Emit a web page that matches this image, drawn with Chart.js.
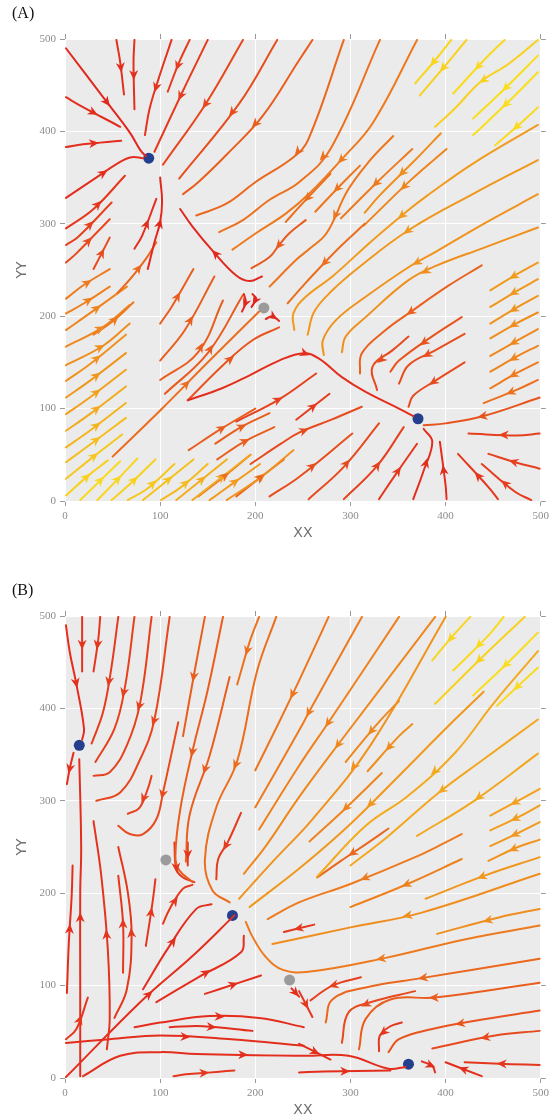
<!DOCTYPE html>
<html>
<head>
<meta charset="utf-8">
<script src="https://cdn.jsdelivr.net/npm/chart.js@4"></script>
<style>
body { margin: 0; background: #fff; width: 553px; height: 1120px; position: relative; overflow: hidden; }
canvas { position: absolute; left: 0; }
#panelA { top: 0; }
#panelB { top: 577px; }
</style>
</head>
<body>
<canvas id="panelA" width="553" height="543"></canvas>
<canvas id="panelB" width="553" height="543"></canvas>
<script>
// axis ticks shared by both panels
const tickValues = [0, 100, 200, 300, 400, 500];

// fixed points
const stableA = [[88, 371], [371, 89]];
const saddleA = [[209, 209]];
const stableB = [[15, 360], [176, 176], [361, 15]];
const saddleB = [[106, 236], [236, 106]];

// streamlines: [speed level 0 (red) .. 1 (yellow), points in flow order]
const streamsA = [
  [0.02, [[1,490],[40,437],[68,399],[79,380],[85,373]]],
  [0.05, [[1,437],[16,428],[58,405]]],
  [0.05, [[1,383],[19,386],[59,390]]],
  [0.05, [[1,328],[30,348],[58,367],[70,372],[82,371]]],
  [0.06, [[54,499],[58,475],[62,440]]],
  [0.06, [[73,499],[72,475],[73,424]]],
  [0.08, [[112,499],[99,459],[89,425],[84,396]]],
  [0.12, [[131,499],[120,475],[108,443]]],
  [0.12, [[150,499],[124,444],[94,378]]],
  [0.18, [[187,499],[148,430],[103,364]]],
  [0.22, [[223,499],[183,430],[120,349]]],
  [0.1, [[1,295],[30,316],[63,352]]],
  [0.15, [[1,277],[14,286],[49,323]]],
  [0.2, [[1,258],[12,268],[47,305]]],
  [0.2, [[30,251],[47,285]]],
  [0.05, [[73,273],[81,287],[96,327]]],
  [0.02, [[87,251],[94,280],[100,302],[102,324],[100,350]]],
  [0.02, [[207,243],[194,238],[180,244],[155,271],[134,297],[121,316]]],
  [0.3, [[260,499],[246,477],[208,417],[170,375],[140,345],[124,332]]],
  [0.35, [[293,499],[256,392],[240,372],[200,345],[170,322],[138,309]]],
  [0.4, [[331,499],[279,381],[246,345],[215,326],[187,304],[162,291]]],
  [0.45, [[370,499],[324,410],[291,370],[257,333],[232,311],[201,290],[176,272]]],
  [0.38, [[279,354],[267,341],[246,318],[232,302]]],
  [0.42, [[310,363],[286,338],[263,313]]],
  [0.28, [[253,304],[236,290],[225,277],[215,264],[196,252]]],
  [0.45, [[365,381],[328,345],[290,306]]],
  [0.42, [[345,395],[320,368],[297,336],[275,290],[257,273],[243,261],[215,232]]],
  [0.38, [[315,300],[290,276],[272,257],[252,235],[234,214]]],
  [0.5, [[401,381],[363,347],[314,298]]],
  [0.55, [[395,398],[368,369],[330,330],[315,312]]],
  [0.62, [[497,407],[430,366],[380,330],[361,315],[323,282],[281,243],[253,221],[240,203],[241,185]]],
  [0.6, [[497,369],[430,333],[361,293],[309,253],[281,228],[262,205],[255,180]]],
  [0.58, [[497,332],[440,300],[390,270],[361,253],[316,221],[285,196],[271,174],[272,158]]],
  [0.56, [[497,296],[440,274],[391,255],[361,239],[316,199],[295,178],[291,161]]],
  [0.92, [[406,499],[389,477],[368,452]]],
  [0.9, [[422,499],[406,479],[373,439]]],
  [0.95, [[462,499],[443,480],[408,441]]],
  [0.9, [[497,499],[466,473],[436,453],[410,425],[389,405]]],
  [0.97, [[497,482],[466,450],[429,414]]],
  [0.97, [[497,464],[466,432],[429,396]]],
  [0.95, [[497,426],[478,408],[452,385]]],
  [0.62, [[497,258],[476,246],[447,228]]],
  [0.6, [[497,240],[476,228],[447,210]]],
  [0.58, [[497,222],[476,210],[447,192]]],
  [0.55, [[497,204],[474,192],[447,176]]],
  [0.52, [[497,186],[476,174],[447,157]]],
  [0.5, [[497,168],[476,157],[447,140]]],
  [0.45, [[497,150],[474,138],[447,122]]],
  [0.4, [[497,131],[474,120],[440,106]]],
  [0.25, [[499,112],[440,92],[400,84],[377,82]]],
  [0.15, [[499,73],[475,71],[424,73]]],
  [0.15, [[499,35],[473,42],[445,51]]],
  [0.12, [[490,1],[473,10],[438,40]]],
  [0.1, [[455,2],[445,15],[413,51]]],
  [0.05, [[401,2],[400,17],[394,64]]],
  [0.05, [[366,2],[377,33],[386,64],[377,78]]],
  [0.1, [[330,2],[347,28],[370,62]]],
  [0.15, [[293,2],[328,38],[356,80]]],
  [0.2, [[256,2],[293,37],[330,84]]],
  [0.22, [[215,5],[246,26],[302,73]]],
  [0.2, [[195,40],[227,62],[246,74],[280,88],[312,102]]],
  [0.15, [[180,86],[225,110],[264,138]]],
  [0.12, [[243,88],[278,116]]],
  [0.05, [[129,109],[165,122],[194,136],[225,152],[251,160],[267,154],[291,134],[316,118],[351,100],[366,92]]],
  [0.38, [[50,48],[100,98],[152,152],[204,205]]],
  [0.25, [[129,109],[166,147],[197,174],[225,188]]],
  [0.32, [[438,255],[403,233],[361,203],[337,185],[312,160],[310,138]]],
  [0.25, [[417,199],[387,179],[351,152],[342,140]]],
  [0.2, [[361,178],[344,163],[323,145],[328,120]]],
  [0.22, [[420,181],[389,163],[361,147],[351,127]]],
  [0.2, [[420,150],[389,130],[366,114],[361,102]]],
  [0.02, [[188,224],[190,215],[186,205]]],
  [0.02, [[197,224],[201,219],[196,210]]],
  [0.02, [[211,197],[218,200],[225,195]]],
  [0.3, [[100,192],[112,210],[135,251]]],
  [0.3, [[100,152],[126,185],[157,243]]],
  [0.3, [[100,131],[140,161],[166,217]]],
  [0.28, [[105,116],[150,160],[187,223]]],
  [0.35, [[55,225],[70,242],[85,262],[96,280]]],
  [0.45, [[30,180],[51,195],[72,215]]],
  [0.45, [[1,219],[20,234],[47,251]]],
  [0.48, [[1,203],[20,214],[47,232]]],
  [0.5, [[1,185],[30,206],[65,232]]],
  [0.52, [[1,167],[38,187],[68,212]]],
  [0.55, [[1,147],[40,168],[68,192]]],
  [0.57, [[1,130],[26,148],[64,180]]],
  [0.6, [[1,112],[26,130],[64,160]]],
  [0.65, [[1,94],[26,112],[64,142]]],
  [0.7, [[1,76],[26,94],[64,124]]],
  [0.75, [[1,58],[26,76],[64,106]]],
  [0.8, [[1,42],[25,60],[64,90]]],
  [0.85, [[1,24],[25,44],[60,72]]],
  [0.9, [[1,6],[25,28],[45,44]]],
  [0.95, [[16,1],[40,25],[58,43]]],
  [0.92, [[34,1],[54,22],[76,46]]],
  [0.9, [[49,1],[70,20],[95,45]]],
  [0.85, [[66,1],[86,13],[115,40]]],
  [0.82, [[82,1],[105,20],[135,45]]],
  [0.78, [[101,1],[122,15],[150,40]]],
  [0.72, [[117,1],[140,20],[170,45]]],
  [0.68, [[134,1],[160,22],[195,50]]],
  [0.62, [[152,1],[175,18],[205,40]]],
  [0.58, [[170,1],[206,26],[240,55]]],
  [0.3, [[130,55],[164,78],[200,100]]],
  [0.3, [[158,62],[185,80],[215,95]]],
  [0.3, [[160,45],[188,64],[220,80]]],
  [0.4, [[140,5],[169,28],[195,50]]],
  [0.35, [[180,5],[206,26],[230,45]]]
];

const streamsB = [
  [0.05, [[1,490],[5,461],[12,426],[20,378],[18,366]]],
  [0.08, [[18,499],[18,475],[18,440]]],
  [0.1, [[37,499],[35,475],[30,440]]],
  [0.12, [[56,499],[48,439],[40,396],[28,362]]],
  [0.15, [[73,499],[63,423],[52,378],[32,342]]],
  [0.15, [[91,499],[79,406],[65,360],[47,331],[30,327]]],
  [0.18, [[110,499],[94,388],[79,345],[58,309],[33,300]]],
  [0.3, [[147,499],[136,439],[124,370]]],
  [0.3, [[166,499],[150,420],[134,354],[121,290],[116,240],[120,225],[134,212]]],
  [0.3, [[173,434],[152,349],[131,285],[127,234]]],
  [0.4, [[204,499],[195,475],[181,426]]],
  [0.38, [[222,499],[202,441],[181,343],[159,293],[147,236],[155,203],[173,190]]],
  [0.42, [[277,499],[246,430],[225,385],[200,333]]],
  [0.45, [[312,499],[258,399],[246,376],[200,293]]],
  [0.48, [[351,499],[279,388],[246,338],[204,269]]],
  [0.52, [[389,499],[290,365],[246,304],[211,251],[188,221]]],
  [0.15, [[91,327],[87,313],[78,292],[66,286]]],
  [0.2, [[119,385],[103,309],[96,280],[82,264],[68,264],[56,273]]],
  [0.05, [[9,352],[5,335],[2,318]]],
  [0.12, [[185,287],[171,255],[161,237],[159,215]]],
  [0.1, [[1,42],[12,53],[24,87]]],
  [0.05, [[2,92],[4,146],[7,197],[8,230]]],
  [0.05, [[16,2],[16,100],[16,201],[17,250],[15,345]]],
  [0.08, [[44,31],[47,64],[45,139],[38,220],[30,278]]],
  [0.1, [[61,114],[61,167],[56,219]]],
  [0.1, [[52,65],[65,96],[70,154],[66,201],[56,250]]],
  [0.1, [[85,143],[92,190],[95,215]]],
  [0.1, [[103,167],[110,183],[124,205],[134,209]]],
  [0.1, [[115,255],[117,226],[124,217],[136,212]]],
  [0.1, [[129,255],[129,230]]],
  [0.05, [[1,1],[82,85],[134,132],[178,176]]],
  [0.05, [[82,96],[108,140],[138,183],[154,188]]],
  [0.05, [[96,82],[140,109],[185,136],[188,154]]],
  [0.05, [[147,91],[162,96],[206,111]]],
  [0.05, [[73,55],[100,60],[152,67],[204,65],[251,55]]],
  [0.05, [[110,55],[145,56],[197,51]]],
  [0.05, [[1,38],[47,42],[100,46],[175,42],[251,35]]],
  [0.05, [[19,2],[58,24],[100,28],[138,26],[251,24],[298,24],[340,10],[358,12]]],
  [0.1, [[114,2],[127,4],[178,8]]],
  [0.05, [[246,6],[272,7],[342,8]]],
  [0.05, [[238,97],[246,88]]],
  [0.58, [[400,499],[321,360],[260,280],[220,236],[183,194]]],
  [0.6, [[440,418],[400,378],[349,325],[300,275],[250,230],[194,185]]],
  [0.5, [[333,330],[295,292],[257,256]]],
  [0.7, [[497,462],[450,405],[410,352],[360,305],[316,273],[265,218]]],
  [0.52, [[351,408],[328,383],[295,342]]],
  [0.55, [[365,383],[351,370],[318,332]]],
  [0.68, [[497,388],[440,345],[393,309],[340,262],[300,230]]],
  [0.68, [[497,351],[430,300],[370,262]]],
  [0.45, [[417,264],[400,255],[368,239],[300,210],[246,190],[213,172]]],
  [0.65, [[499,313],[476,300],[447,284]]],
  [0.63, [[499,295],[476,282],[447,268]]],
  [0.6, [[499,277],[476,265],[447,251]]],
  [0.58, [[499,258],[476,250],[445,235]]],
  [0.48, [[417,237],[360,210],[300,185]]],
  [0.55, [[499,221],[375,179],[300,163],[218,145]]],
  [0.6, [[499,239],[441,219],[379,194]]],
  [0.45, [[499,165],[420,150],[337,130],[256,115],[229,117],[211,131],[197,153],[190,169]]],
  [0.55, [[499,183],[457,174],[391,156]]],
  [0.15, [[311,109],[281,100],[258,84]]],
  [0.35, [[499,129],[368,107],[316,98],[281,85],[274,60]]],
  [0.2, [[368,94],[321,82],[298,71],[291,38]]],
  [0.3, [[499,103],[389,87],[342,85],[316,64],[309,31]]],
  [0.1, [[354,60],[342,56],[331,46],[330,29]]],
  [0.25, [[499,73],[431,62],[386,53],[351,42],[340,28]]],
  [0.2, [[499,51],[452,46],[386,32]]],
  [0.05, [[375,18],[386,13],[389,6]]],
  [0.05, [[438,2],[400,17]]],
  [0.1, [[499,14],[469,15],[420,17]]],
  [0.1, [[246,94],[260,66]]],
  [0.05, [[246,37],[279,20]]],
  [0.35, [[340,270],[319,255],[290,235],[265,217]]],
  [0.1, [[262,166],[230,158]]],
  [0.92, [[426,499],[408,479],[386,452]]],
  [0.95, [[461,499],[445,479],[408,441]]],
  [0.9, [[483,499],[436,453],[389,405]]],
  [0.97, [[497,482],[466,450],[429,414]]],
  [0.95, [[497,444],[478,426],[454,403]]]
];

function speedColour(s) {
  const r = Math.round(226 + 24 * s);
  const g = Math.round(36 + 192 * s);
  return 'rgb(' + r + ',' + g + ',30)';
}

// grey panel background and the loose text labels
const frame = {
  id: 'panelText',
  beforeDraw(chart) {
    const ctx = chart.ctx, a = chart.chartArea;
    ctx.save();
    ctx.fillStyle = '#fff';
    ctx.fillRect(0, 0, chart.width, chart.height);
    ctx.fillStyle = '#ebebeb';
    ctx.fillRect(a.left, a.top, a.right - a.left, a.bottom - a.top);
    ctx.restore();
  },
  afterDraw(chart, args, opts) {
    const ctx = chart.ctx, a = chart.chartArea;
    ctx.save();
    ctx.fillStyle = '#111';
    ctx.font = '16px "Liberation Serif"';
    ctx.textAlign = 'left';
    ctx.textBaseline = 'middle';
    ctx.fillText(opts.label, 12, 14);
    ctx.fillStyle = '#707070';
    ctx.font = '14px "DejaVu Sans"';
    ctx.textAlign = 'center';
    ctx.fillText('XX', (a.left + a.right) / 2, a.bottom + 32);
    ctx.translate(22, (a.top + a.bottom) / 2);
    ctx.rotate(-Math.PI / 2);
    ctx.fillText('YY', 0, 0);
    ctx.restore();
  }
};

// arrow head at the middle of every streamline
const arrows = {
  id: 'arrows',
  afterDatasetsDraw(chart) {
    const ctx = chart.ctx;
    chart.data.datasets.forEach((ds, i) => {
      if (!ds.arrow) return;
      const pts = chart.getDatasetMeta(i).data;
      const seg = [];
      let total = 0;
      for (let k = 1; k < pts.length; k++) {
        const d = Math.hypot(pts[k].x - pts[k - 1].x, pts[k].y - pts[k - 1].y);
        seg.push(d);
        total += d;
      }
      let half = total / 2, k = 0;
      while (k < seg.length - 1 && half > seg[k]) { half -= seg[k]; k++; }
      const p = pts[k], q = pts[k + 1];
      const t = seg[k] ? half / seg[k] : 0;
      const x = p.x + (q.x - p.x) * t, y = p.y + (q.y - p.y) * t;
      ctx.save();
      ctx.translate(x, y);
      ctx.rotate(Math.atan2(q.y - p.y, q.x - p.x));
      ctx.fillStyle = ds.borderColor;
      ctx.beginPath();
      ctx.moveTo(5.5, 0);
      ctx.lineTo(-4.5, -4.5);
      ctx.lineTo(-1.5, 0);
      ctx.lineTo(-4.5, 4.5);
      ctx.closePath();
      ctx.fill();
      ctx.restore();
    });
  }
};

function axis(position, size, showLabels) {
  const horiz = position === 'bottom' || position === 'top';
  return {
    type: 'linear',
    position: position,
    min: 0,
    max: 500,
    afterBuildTicks: s => { s.ticks = tickValues.map(v => ({ value: v })); },
    ticks: {
      display: showLabels,
      font: { family: 'Liberation Serif', size: 11 },
      color: '#8c8c8c',
      padding: 4,
      maxRotation: 0
    },
    grid: {
      color: '#ffffff',
      lineWidth: 1,
      drawOnChartArea: showLabels,
      tickColor: '#9a9a9a',
      tickLength: 5
    },
    border: { display: false },
    afterFit: s => { if (horiz) s.height = size; else s.width = size; }
  };
}

function makePanel(id, label, streams, stable, saddle) {
  const datasets = streams.map(([s, pts]) => ({
    data: pts.map(([x, y]) => ({ x: x, y: y })),
    showLine: true,
    borderColor: speedColour(s),
    borderWidth: 2,
    tension: 0.4,
    pointRadius: 0,
    borderCapStyle: 'round',
    borderJoinStyle: 'round',
    arrow: true
  }));
  datasets.push({
    data: saddle.map(([x, y]) => ({ x: x, y: y })),
    pointRadius: 5.5,
    pointBackgroundColor: '#9b9b9b',
    pointBorderWidth: 0
  });
  datasets.push({
    data: stable.map(([x, y]) => ({ x: x, y: y })),
    pointRadius: 5.5,
    pointBackgroundColor: '#243f8c',
    pointBorderWidth: 0
  });
  return new Chart(document.getElementById(id), {
    type: 'scatter',
    data: { datasets: datasets },
    options: {
      responsive: false,
      animation: false,
      events: [],
      devicePixelRatio: 1,
      layout: { padding: 0 },
      plugins: {
        legend: { display: false },
        tooltip: { enabled: false },
        panelText: { label: label }
      },
      scales: {
        x: axis('bottom', 42, true),
        y: axis('left', 65, true),
        x2: axis('top', 39, false),
        y2: axis('right', 11, false)
      }
    },
    plugins: [frame, arrows]
  });
}

makePanel('panelA', '(A)', streamsA, stableA, saddleA);
makePanel('panelB', '(B)', streamsB, stableB, saddleB);
</script>
</body>
</html>
